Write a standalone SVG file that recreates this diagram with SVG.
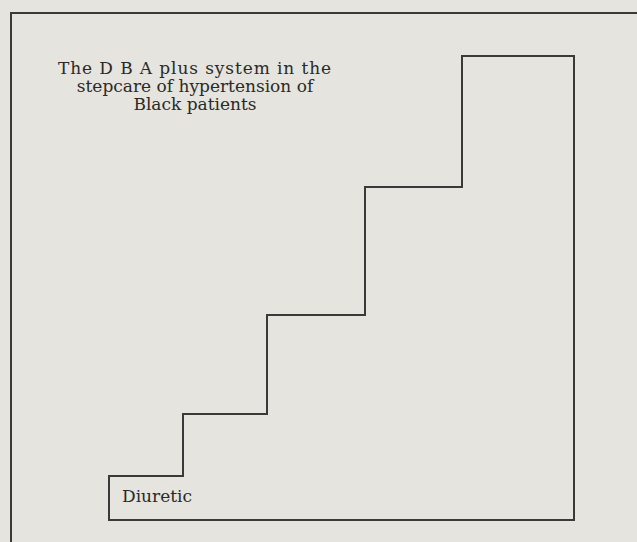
<svg xmlns="http://www.w3.org/2000/svg" width="637" height="542" viewBox="0 0 637 542">
  <style>
    .ln { fill: none; stroke: #3a3a38; stroke-width: 2; stroke-linejoin: miter; }
    .tx { font-family: "DejaVu Serif", "Liberation Serif", serif; font-size: 17px; fill: #2a2a28; }
  </style>
  <rect x="0" y="0" width="637" height="542" fill="#e5e4de"/>
  <g id="frame">
    <path class="ln" d="M11,560 L11,13 L650,13"/>
  </g>
  <g id="title">
    <text class="tx" x="195" y="74" text-anchor="middle" letter-spacing="0.9">The D B A plus system in the</text>
    <text class="tx" x="195" y="92" text-anchor="middle">stepcare of hypertension of</text>
    <text class="tx" x="195" y="110" text-anchor="middle">Black patients</text>
  </g>
  <g id="connectors">
    <path id="staircase" class="ln" d="M109,520 L109,476 L183,476 L183,414 L267,414 L267,315 L365,315 L365,187 L462,187 L462,56 L574,56 L574,520 Z"/>
  </g>
  <g id="diuretic">
    <text class="tx" x="122" y="502">Diuretic</text>
  </g>
</svg>
